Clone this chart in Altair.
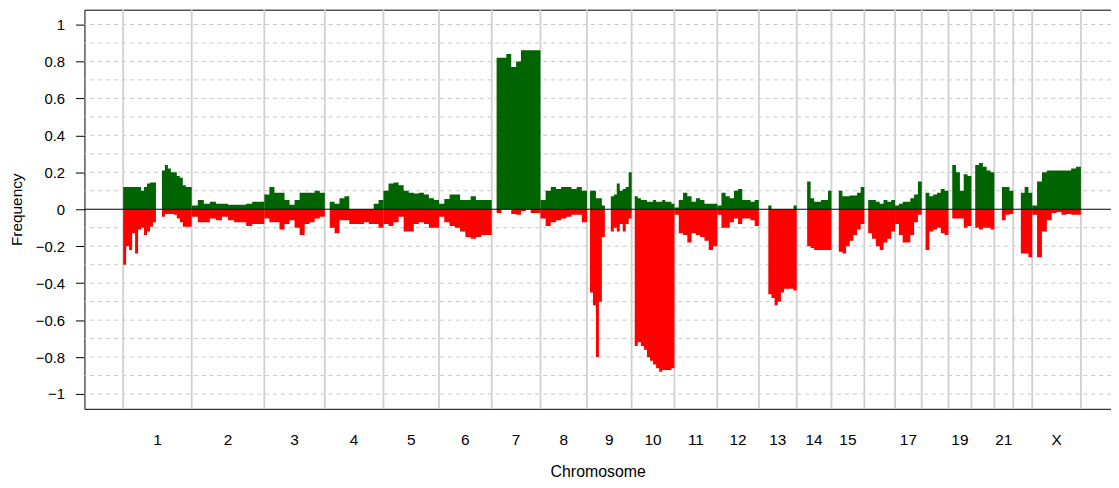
import altair as alt
import pandas as pd

# ---------------- data ----------------
chrom_names = ["1", "2", "3", "4", "5", "6", "7", "8", "9", "10", "11", "12",
               "13", "14", "15", "16", "17", "18", "19", "20", "21", "22", "X"]
chrom_len_mb = [221, 234, 195, 189, 179, 170, 157, 150, 144, 138, 138, 134,
                122, 112, 106, 99, 86, 86, 74, 74, 61, 61, 157]
label_chroms = ["1", "2", "3", "4", "5", "6", "7", "8", "9", "10", "11", "12",
                "13", "14", "15", "17", "19", "21", "X"]

gain_chr1 = [0.12, 0.12, 0.12, 0.12, 0.12, 0.12, 0.10, 0.12, 0.14, 0.145, 0.145, 0, 0,
             0.21, 0.24, 0.22, 0.2, 0.2, 0.18, 0.17, 0.13, 0.12, 0.12]
loss_chr1 = [-0.30, -0.2, -0.22, -0.13, -0.24, -0.11, -0.1, -0.14, -0.12, -0.095, -0.07, 0, 0,
             -0.04, -0.025, -0.025, -0.025, -0.03, -0.05, -0.07, -0.095, -0.095, -0.095]
gain_chr2 = [0.02, 0.05, 0.03, 0.04, 0.03, 0.03, 0.025, 0.025, 0.025, 0.03, 0.04, 0.04]
loss_chr2 = [-0.04, -0.07, -0.07, -0.05, -0.06, -0.04, -0.06, -0.07, -0.07, -0.09, -0.08, -0.08]
gain_chr3 = [0.08, 0.12, 0.09, 0.09, 0.05, 0.025, 0.05, 0.09, 0.09, 0.09, 0.1, 0.09]
loss_chr3 = [-0.05, -0.07, -0.07, -0.11, -0.08, -0.06, -0.1, -0.14, -0.08, -0.07, -0.05, -0.04]
gain_chr4 = [0, 0.04, 0.03, 0.06, 0.07, 0, 0, 0, 0, 0, 0.03, 0.05]
loss_chr4 = [0, -0.1, -0.13, -0.06, -0.06, -0.08, -0.08, -0.08, -0.07, -0.08, -0.08, -0.1]
gain_chr5 = [0.1, 0.14, 0.145, 0.13, 0.1, 0.09, 0.085, 0.09, 0.08, 0.06, 0.05]
loss_chr5 = [-0.08, -0.09, -0.07, -0.04, -0.12, -0.12, -0.08, -0.07, -0.08, -0.1, -0.1]
gain_chr6 = [0.03, 0.055, 0.08, 0.08, 0.05, 0.05, 0.07, 0.05, 0.05, 0.05]
loss_chr6 = [-0.04, -0.07, -0.09, -0.1, -0.12, -0.15, -0.16, -0.15, -0.14, -0.14]
gain_chr7 = [0, 0.82, 0.82, 0.84, 0.77, 0.8, 0.86, 0.86, 0.86, 0.86]
loss_chr7 = [0, -0.02, 0, 0, -0.025, -0.03, -0.01, 0, -0.02, -0.02]
gain_chr8 = [0.05, 0.1, 0.12, 0.11, 0.12, 0.12, 0.11, 0.12, 0.1]
loss_chr8 = [-0.05, -0.09, -0.07, -0.06, -0.05, -0.04, -0.03, -0.03, -0.07]
gain_chr9 = [0, 0.1, 0.1, 0.06, 0.06, 0.02, 0, 0, 0.07, 0.08, 0.14, 0.1, 0.11, 0.12, 0.2]
loss_chr9 = [0, -0.45, -0.52, -0.8, -0.5, -0.15, 0, 0, -0.12, -0.1, -0.12, -0.08, -0.12, -0.08, -0.05]
gain_chr10 = [0, 0.07, 0.06, 0.05, 0.05, 0.04, 0.04, 0.05, 0.04, 0.04, 0.05, 0.04, 0.04, 0.03]
loss_chr10 = [0, -0.74, -0.72, -0.74, -0.76, -0.8, -0.82, -0.84, -0.86, -0.88, -0.87, -0.87, -0.87, -0.86]
gain_chr11 = [0.01, 0.05, 0.09, 0.07, 0.04, 0.06, 0.05, 0.03, 0.03, 0.03]
loss_chr11 = [-0.03, -0.13, -0.14, -0.18, -0.13, -0.14, -0.15, -0.17, -0.22, -0.2]
gain_chr12 = [0.02, 0.09, 0.07, 0.06, 0.1, 0.11, 0.05, 0.05, 0.04, 0.05]
loss_chr12 = [-0.03, -0.1, -0.1, -0.07, -0.05, -0.08, -0.05, -0.05, -0.06, -0.09]
gain_chr13 = [0, 0, 0, 0.02, 0, 0, 0, 0, 0, 0, 0, 0.02]
loss_chr13 = [0, 0, 0, -0.46, -0.48, -0.52, -0.5, -0.45, -0.43, -0.43, -0.43, -0.44]
gain_chr14 = [0, 0, 0, 0.15, 0.06, 0.04, 0.04, 0.05, 0.05, 0.1]
loss_chr14 = [0, 0, 0, -0.2, -0.21, -0.22, -0.22, -0.22, -0.22, -0.22]
gain_chr15 = [0, 0, 0.1, 0.07, 0.07, 0.075, 0.075, 0.09, 0.12]
loss_chr15 = [0, 0, -0.23, -0.24, -0.2, -0.17, -0.14, -0.11, -0.08]
gain_chr16 = [0, 0.05, 0.05, 0.04, 0.03, 0.05, 0.04, 0.05]
loss_chr16 = [0, -0.13, -0.16, -0.2, -0.22, -0.18, -0.16, -0.12]
gain_chr17 = [0.02, 0.03, 0.04, 0.04, 0.06, 0.08, 0.15]
loss_chr17 = [-0.08, -0.14, -0.18, -0.18, -0.14, -0.07, -0.03]
gain_chr18 = [0, 0.09, 0.07, 0.08, 0.09, 0.11, 0.1]
loss_chr18 = [0, -0.22, -0.12, -0.11, -0.1, -0.13, -0.14]
gain_chr19 = [0, 0.24, 0.2, 0.1, 0.19, 0.18]
loss_chr19 = [0, -0.05, -0.05, -0.05, -0.1, -0.09]
gain_chr20 = [0, 0.24, 0.25, 0.23, 0.21, 0.2]
loss_chr20 = [0, -0.1, -0.11, -0.1, -0.1, -0.11]
gain_chr21 = [0, 0, 0.12, 0.12, 0.1]
loss_chr21 = [0, 0, -0.06, -0.03, -0.025]
gain_chr22 = [0, 0, 0.09, 0.12, 0.09]
loss_chr22 = [0, 0, -0.24, -0.24, -0.26]
gain_chrX = [0.02, 0.15, 0.2, 0.21, 0.21, 0.21, 0.21, 0.21, 0.22, 0.23]
loss_chrX = [-0.03, -0.26, -0.12, -0.06, -0.02, -0.015, -0.03, -0.025, -0.03, -0.03]

y_tick_values = [-1.0, -0.8, -0.6, -0.4, -0.2, 0.0, 0.2, 0.4, 0.6, 0.8, 1.0]
grid_values = [-1.0, -0.9, -0.8, -0.7, -0.6, -0.5, -0.4, -0.3, -0.2, -0.1,
               0.1, 0.2, 0.3, 0.4, 0.5, 0.6, 0.7, 0.8, 0.9, 1.0]

gain_lists = [gain_chr1, gain_chr2, gain_chr3, gain_chr4, gain_chr5, gain_chr6, gain_chr7,
              gain_chr8, gain_chr9, gain_chr10, gain_chr11, gain_chr12, gain_chr13, gain_chr14,
              gain_chr15, gain_chr16, gain_chr17, gain_chr18, gain_chr19, gain_chr20, gain_chr21,
              gain_chr22, gain_chrX]
loss_lists = [loss_chr1, loss_chr2, loss_chr3, loss_chr4, loss_chr5, loss_chr6, loss_chr7,
              loss_chr8, loss_chr9, loss_chr10, loss_chr11, loss_chr12, loss_chr13, loss_chr14,
              loss_chr15, loss_chr16, loss_chr17, loss_chr18, loss_chr19, loss_chr20, loss_chr21,
              loss_chr22, loss_chrX]

# ---------------- build table (step profile per chromosome) ----------------
rows = []
starts = []
pos = 0.0
for name, L, g, l in zip(chrom_names, chrom_len_mb, gain_lists, loss_lists):
    starts.append(pos)
    n = len(g)
    for j in range(n):
        rows.append({"chrom": name, "pos": pos + L * j / n, "gain": g[j], "loss": l[j],
                     "zero": 0.0})
    rows.append({"chrom": name, "pos": pos + L, "gain": g[-1], "loss": l[-1], "zero": 0.0})
    pos += L
bounds = starts + [pos]
df = pd.DataFrame(rows)

centers = {n: s + L / 2 for n, s, L in zip(chrom_names, starts, chrom_len_mb)}
labels_df = pd.DataFrame({"name": label_chroms, "pos": [centers[n] for n in label_chroms]})

# ---------------- layout ----------------
W, H = 1034, 402
FONT = "Liberation Sans"
xs = alt.Scale(domain=[-124.8, 3184.0], nice=False, zero=False)
ys = alt.Scale(domain=[-1.08, 1.08], nice=False, zero=False)

x_axis = alt.Axis(labels=False, ticks=False, domain=False, grid=False,
                  title="Chromosome", titleFontSize=16, titleFontWeight="normal",
                  titleFont=FONT, titleColor="black", titlePadding=55)
y_axis = alt.Axis(values=y_tick_values, format=".1~f", tickSize=9, tickColor="black",
                  tickWidth=1, domain=False, grid=False, labelFontSize=15,
                  labelPadding=11, labelColor="black", labelFont=FONT,
                  title="Frequency", titleFontSize=15.5, titleFontWeight="normal",
                  titleFont=FONT, titleColor="black", titlePadding=11)

grid = alt.Chart(pd.DataFrame({"v": grid_values})).mark_rule(
    color="#c8c8c8", strokeWidth=1, strokeDash=[4, 4]
).encode(y=alt.Y("v:Q", scale=ys, axis=y_axis, title="Frequency"))

vlines = alt.Chart(pd.DataFrame({"b": bounds})).mark_rule(
    color="#d0d0d0", strokeWidth=1.8
).encode(x=alt.X("b:Q", scale=xs, axis=x_axis, title="Chromosome"))

gains = alt.Chart(df).mark_area(
    color="#006400", interpolate="step-after"
).encode(
    x=alt.X("pos:Q", scale=xs, title="Chromosome"),
    y=alt.Y("gain:Q", scale=ys, title="Frequency"),
    y2="zero:Q",
    detail="chrom:N",
)

losses = alt.Chart(df).mark_area(
    color="#ff0000", interpolate="step-after"
).encode(
    x=alt.X("pos:Q", scale=xs, title="Chromosome"),
    y=alt.Y("loss:Q", scale=ys, title="Frequency"),
    y2="zero:Q",
    detail="chrom:N",
)

zero = alt.Chart(pd.DataFrame({"z": [0.0]})).mark_rule(
    color="black", strokeWidth=1
).encode(y=alt.Y("z:Q", scale=ys, title="Frequency"))

labels = alt.Chart(labels_df).mark_text(
    font=FONT, fontSize=15.5, color="black", baseline="middle", align="center"
).encode(
    x=alt.X("pos:Q", scale=xs, title="Chromosome"),
    y=alt.value(H + 31),
    text="name:N",
)

chart = alt.layer(grid, vlines, gains, losses, zero, labels).properties(
    width=W, height=H, autosize="none",
    padding={"left": 77, "top": 0, "right": 0, "bottom": 71},
).configure_view(stroke="black", strokeWidth=1)

chart.save("out.html", embed_options={"renderer": "svg", "actions": False})
